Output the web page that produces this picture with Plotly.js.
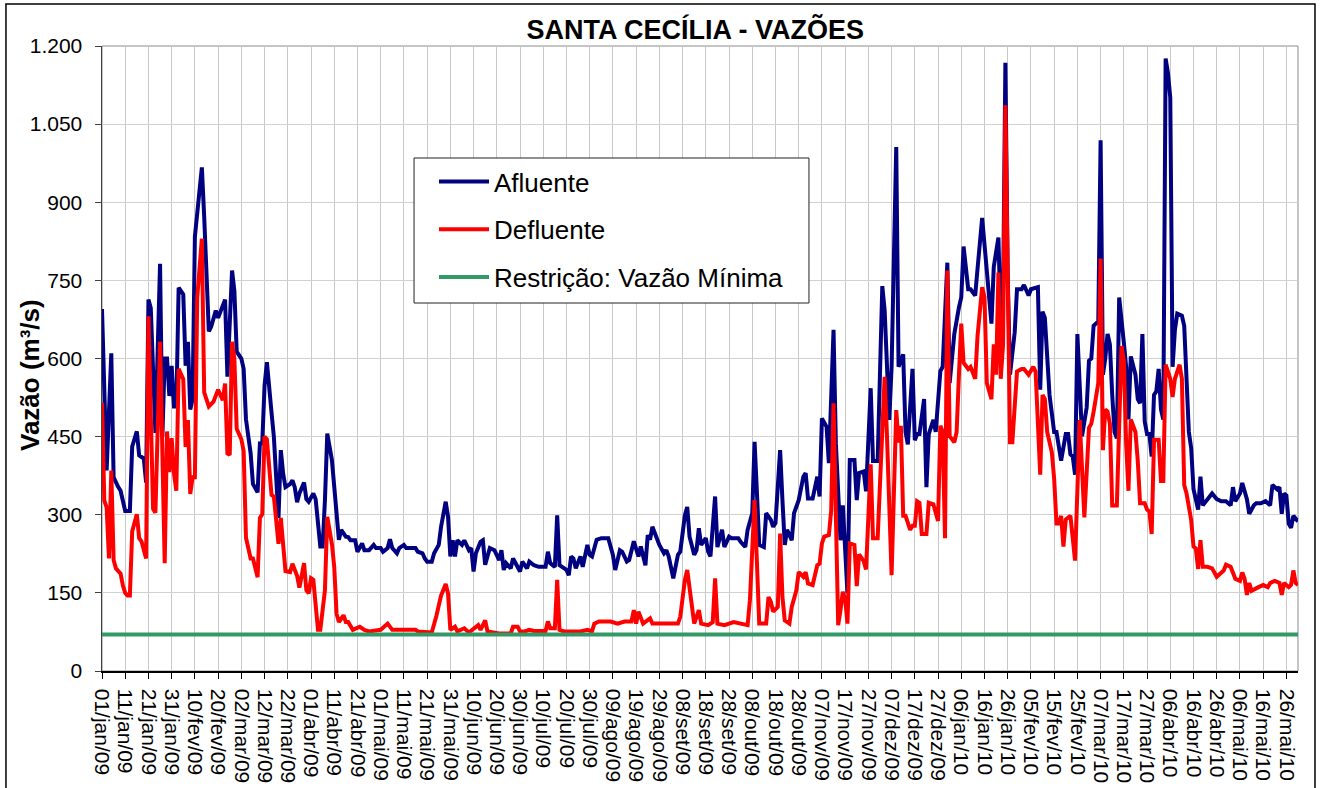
<!DOCTYPE html>
<html>
<head>
<meta charset="utf-8">
<script src="https://cdn.plot.ly/plotly-3.0.1.min.js"></script>
<style>
  html, body { margin: 0; padding: 0; background: #fff; }
  #chart { width: 1320px; height: 788px; }
</style>
</head>
<body>
<div id="chart"></div>
<script>
// Santa Cecília - vazões diárias (m³/s), dias contados a partir de 01/jan/09
const afluenteDias = [
  0, 2, 4, 5, 7, 8, 10, 12, 13, 15, 16, 18, 19, 20, 21, 23, 25, 26, 27, 28,
  29, 30, 31, 32, 33, 35, 36, 37, 38, 39, 40, 41, 43, 44, 46, 47, 49, 50, 51, 53,
  54, 56, 57, 58, 60, 61, 62, 64, 65, 67, 68, 69, 70, 71, 73, 74, 76, 77, 78, 79,
  81, 82, 83, 84, 85, 87, 88, 89, 91, 92, 94, 95, 96, 97, 99, 100, 102, 103, 105, 106,
  107, 109, 110, 112, 113, 115, 117, 118, 120, 121, 123, 124, 125, 127, 128, 130, 131, 133, 135, 136,
  138, 139, 140, 142, 143, 145, 146, 148, 149, 150, 151, 152, 153, 155, 156, 158, 159, 160, 161, 163,
  164, 165, 167, 169, 171, 172, 173, 174, 176, 177, 178, 180, 181, 183, 184, 186, 188, 191, 192, 193,
  195, 196, 197, 198, 200, 201, 202, 203, 204, 206, 207, 209, 210, 211, 213, 215, 218, 220, 221, 223,
  224, 226, 227, 229, 231, 232, 234, 235, 236, 237, 239, 240, 242, 243, 244, 246, 248, 249, 251, 252,
  253, 255, 256, 257, 258, 260, 261, 262, 264, 265, 267, 268, 270, 271, 274, 275, 277, 278, 280, 281,
  282, 283, 285, 286, 288, 289, 290, 292, 293, 294, 295, 297, 298, 300, 302, 303, 304, 306, 308, 309,
  310, 312, 313, 315, 316, 318, 319, 321, 322, 324, 325, 326, 328, 329, 331, 332, 334, 336, 337, 339,
  340, 342, 343, 345, 346, 347, 349, 350, 351, 352, 354, 355, 356, 358, 359, 361, 362, 364, 365, 366,
  367, 369, 370, 371, 373, 374, 376, 377, 379, 380, 382, 383, 384, 386, 387, 388, 389, 390, 391, 393,
  394, 396, 397, 399, 400, 402, 403, 404, 405, 406, 407, 408, 410, 411, 413, 415, 416, 417, 418, 419,
  420, 421, 422, 424, 425, 426, 427, 429, 430, 431, 432, 433, 434, 435, 436, 437, 438, 440, 441, 442,
  443, 445, 446, 447, 448, 449, 450, 451, 452, 453, 454, 455, 456, 457, 458, 459, 460, 461, 462, 463,
  465, 466, 467, 468, 469, 470, 472, 473, 474, 476, 478, 480, 482, 484, 486, 487, 488, 490, 491, 493,
  494, 496, 497, 499, 501, 503, 504, 506, 507, 508, 509, 510, 511, 512, 513, 515
];
const afluenteVazao = [
  695, 385, 610, 372, 353, 346, 307, 307, 431, 460, 414, 408, 362, 713, 697, 457, 782, 450, 600, 600,
  528, 586, 508, 508, 736, 723, 586, 632, 502, 522, 834, 873, 967, 873, 652, 661, 692, 678, 690, 713,
  565, 769, 730, 613, 600, 580, 483, 418, 359, 343, 437, 437, 548, 593, 496, 450, 294, 424, 379, 353,
  359, 366, 353, 324, 341, 362, 330, 325, 341, 330, 239, 239, 328, 456, 405, 355, 252, 271, 258, 257,
  251, 251, 229, 245, 232, 232, 242, 236, 236, 229, 236, 253, 236, 226, 236, 242, 236, 236, 236, 229,
  226, 216, 210, 210, 226, 242, 277, 325, 296, 220, 251, 220, 251, 242, 251, 232, 236, 191, 226, 248,
  251, 204, 236, 232, 213, 232, 194, 207, 197, 216, 207, 191, 210, 197, 210, 203, 200, 200, 229, 207,
  200, 299, 203, 200, 194, 184, 220, 216, 197, 220, 200, 242, 223, 220, 252, 255, 255, 223, 194, 232,
  229, 210, 213, 249, 220, 239, 203, 261, 252, 277, 255, 242, 226, 232, 220, 178, 223, 229, 299, 315,
  258, 223, 232, 274, 242, 255, 229, 220, 335, 238, 271, 238, 258, 255, 255, 248, 238, 271, 303, 440,
  344, 242, 238, 303, 290, 277, 284, 424, 328, 242, 271, 251, 303, 328, 373, 380, 331, 331, 373, 335,
  485, 469, 399, 655, 437, 251, 318, 149, 405, 405, 328, 380, 383, 345, 543, 403, 403, 739, 693, 482,
  584, 1006, 584, 608, 459, 435, 580, 443, 455, 455, 522, 353, 455, 482, 459, 576, 584, 784, 553, 592,
  647, 698, 717, 815, 733, 733, 721, 772, 870, 819, 710, 667, 776, 832, 670, 710, 1168, 760, 569, 650,
  733, 733, 741, 721, 733, 737, 737, 540, 690, 678, 612, 530, 459, 459, 404, 455, 455, 416, 412, 377,
  647, 553, 451, 506, 596, 600, 663, 671, 1019, 569, 600, 647, 627, 530, 459, 447, 717, 631, 584, 483,
  604, 569, 522, 514, 647, 479, 455, 455, 412, 530, 537, 580, 502, 483, 1176, 1148, 1101, 584, 655, 686,
  682, 663, 545, 459, 428, 349, 310, 373, 318, 330, 341, 330, 326, 326, 318, 353, 326, 341, 361, 330,
  302, 318, 322, 322, 326, 318, 357, 349, 353, 302, 341, 337, 283, 275, 298, 287
];

const defluenteDias = [
  0, 1, 2, 3, 4, 5, 6, 8, 9, 10, 11, 12, 13, 15, 16, 17, 19, 20, 22, 23,
  25, 27, 28, 29, 30, 31, 32, 33, 35, 36, 37, 38, 39, 40, 41, 43, 44, 46, 48, 50,
  52, 53, 54, 55, 56, 57, 58, 60, 61, 62, 64, 65, 67, 68, 69, 70, 71, 73, 74, 76,
  77, 78, 79, 81, 82, 84, 85, 87, 88, 89, 90, 91, 92, 93, 94, 96, 97, 99, 100, 101,
  102, 104, 105, 106, 108, 110, 111, 113, 115, 120, 123, 125, 129, 135, 136, 142, 144, 146, 148, 149,
  150, 152, 153, 156, 158, 162, 163, 165, 166, 171, 176, 177, 179, 180, 182, 184, 186, 191, 192, 193,
  195, 196, 197, 199, 206, 209, 211, 212, 214, 219, 222, 225, 228, 229, 230, 231, 233, 236, 237, 248,
  249, 251, 252, 253, 255, 257, 258, 261, 263, 264, 265, 268, 272, 278, 279, 281, 282, 283, 286, 287,
  288, 289, 291, 292, 293, 294, 296, 297, 299, 300, 302, 303, 304, 306, 308, 309, 310, 311, 313, 314,
  315, 316, 317, 318, 319, 320, 321, 322, 324, 325, 326, 328, 329, 331, 332, 334, 335, 337, 338, 340,
  342, 343, 344, 345, 346, 348, 349, 350, 351, 352, 353, 355, 356, 358, 360, 361, 362, 363, 364, 365,
  367, 368, 369, 370, 371, 373, 374, 376, 377, 379, 380, 381, 383, 384, 385, 386, 387, 388, 389, 391,
  392, 394, 396, 397, 399, 400, 401, 402, 404, 405, 406, 407, 409, 410, 411, 412, 413, 414, 415, 417,
  418, 419, 421, 423, 425, 426, 427, 429, 430, 431, 432, 433, 434, 435, 437, 439, 440, 441, 442, 443,
  445, 446, 447, 449, 450, 451, 452, 453, 455, 456, 457, 458, 460, 461, 462, 464, 465, 466, 467, 469,
  470, 471, 472, 473, 474, 476, 478, 480, 483, 484, 486, 487, 488, 490, 491, 492, 493, 494, 495, 498,
  500, 502, 503, 505, 507, 508, 509, 511, 512, 513, 514, 515
];
const defluenteVazao = [
  515, 327, 314, 216, 385, 213, 197, 187, 164, 150, 145, 145, 268, 301, 255, 249, 216, 681, 311, 304,
  632, 207, 460, 382, 447, 379, 346, 580, 560, 430, 482, 340, 372, 372, 717, 830, 535, 508, 517, 540,
  520, 552, 418, 415, 632, 600, 465, 445, 422, 256, 216, 216, 180, 294, 301, 450, 445, 338, 335, 244,
  294, 244, 192, 190, 206, 183, 160, 207, 155, 149, 178, 175, 123, 79, 79, 155, 296, 244, 200, 110,
  94, 107, 94, 94, 79, 82, 85, 79, 76, 79, 91, 79, 79, 79, 76, 74, 106, 145, 167, 149,
  79, 85, 76, 82, 74, 88, 79, 97, 76, 72, 72, 85, 85, 76, 76, 79, 77, 77, 95, 82,
  82, 175, 79, 76, 76, 79, 76, 91, 95, 95, 91, 95, 95, 117, 91, 114, 91, 101, 91, 91,
  104, 175, 194, 155, 91, 117, 91, 88, 94, 178, 91, 88, 94, 88, 136, 328, 187, 91, 91, 142,
  133, 114, 123, 264, 142, 97, 91, 123, 155, 190, 181, 190, 168, 165, 203, 206, 245, 258, 261, 309,
  514, 264, 88, 117, 152, 139, 91, 245, 242, 163, 224, 211, 195, 397, 255, 255, 361, 565, 453, 184,
  501, 439, 471, 298, 298, 271, 279, 279, 326, 323, 263, 263, 323, 320, 288, 471, 459, 255, 769, 451,
  439, 459, 569, 667, 592, 580, 584, 561, 643, 737, 718, 553, 522, 627, 569, 765, 561, 627, 1086, 439,
  439, 575, 580, 580, 569, 575, 584, 575, 377, 530, 522, 459, 420, 369, 283, 283, 298, 239, 291, 298,
  255, 212, 482, 295, 467, 475, 498, 553, 792, 424, 502, 498, 475, 318, 318, 624, 596, 436, 346, 483,
  459, 404, 322, 322, 310, 306, 263, 444, 444, 365, 365, 588, 561, 526, 561, 588, 561, 357, 341, 290,
  239, 235, 196, 251, 200, 200, 197, 181, 193, 204, 200, 189, 177, 173, 189, 177, 146, 169, 154, 161,
  165, 161, 169, 173, 169, 146, 169, 161, 165, 193, 169, 165
];

const restricaoDias = [0, 515];
const restricaoVazao = [70, 70];

const meses = ['jan', 'fev', 'mar', 'abr', 'mai', 'jun', 'jul', 'ago', 'set', 'out', 'nov', 'dez'];
const yTicks = [0, 150, 300, 450, 600, 750, 900, 1050, 1200];
const yTickText = ['0', '150', '300', '450', '600', '750', '900', '1.050', '1.200'];

function diaParaData(d) {
    const t = new Date(Date.UTC(2009, 0, 1 + d));
    return t.toISOString().slice(0, 10);
}
function rotulo(d) {
    const t = new Date(Date.UTC(2009, 0, 1 + d));
    const dd = String(t.getUTCDate()).padStart(2, '0');
    const yy = String(t.getUTCFullYear()).slice(2);
    return `${dd}/${meses[t.getUTCMonth()]}/${yy}`;
}

// ticks every 10 days
const tickDias = [];
for (let d = 0; d <= 510; d += 10) tickDias.push(d);

const fonte = 'Liberation Sans, Arial, sans-serif';

const traces = [
    {
        x: afluenteDias.map(diaParaData),
        y: afluenteVazao,
        type: 'scatter',
        mode: 'lines',
        name: 'Afluente',
        legendgroup: 'a',
        line: { color: '#000080', width: 4 }
    },
    {
        x: defluenteDias.map(diaParaData),
        y: defluenteVazao,
        type: 'scatter',
        mode: 'lines',
        name: 'Defluente',
        legendgroup: 'd',
        line: { color: '#ff0000', width: 4 }
    },
    {
        x: restricaoDias.map(diaParaData),
        y: restricaoVazao,
        type: 'scatter',
        mode: 'lines',
        name: 'Restrição: Vazão Mínima',
        legendgroup: 'r',
        line: { color: '#339966', width: 4 }
    }
];

const layout = {
    width: 1320,
    height: 788,
    margin: { l: 102, r: 22, t: 46, b: 117 },
    paper_bgcolor: '#fff',
    plot_bgcolor: '#fff',
    font: { family: fonte, color: '#000' },
    title: {
        text: 'SANTA CECÍLIA - VAZÕES',
        font: { family: fonte, size: 27, weight: 'bold', color: '#000' },
        x: 0.496, xref: 'paper', xanchor: 'center',
        y: 0.963, yref: 'container', yanchor: 'middle'
    },
    xaxis: {
        type: 'date',
        range: [diaParaData(0), diaParaData(515)],
        tickvals: tickDias.map(diaParaData),
        ticktext: tickDias.map(rotulo),
        tickangle: 90,
        tickfont: { family: fonte, size: 21, color: '#000' },
        ticks: 'outside', ticklen: 6, tickcolor: '#000', tickwidth: 1,
        ticklabelstandoff: 6,
        showgrid: true, gridcolor: '#c8c8c8', gridwidth: 1,
        showline: true, linecolor: '#000', linewidth: 1.5,
        zeroline: false, automargin: false, fixedrange: true
    },
    yaxis: {
        range: [0, 1200],
        tickvals: yTicks,
        ticktext: yTickText,
        tickfont: { family: fonte, size: 21, color: '#000' },
        ticks: 'outside', ticklen: 6, tickcolor: '#404040', tickwidth: 1,
        ticklabelstandoff: 8,
        showgrid: true, gridcolor: '#d0d0d0', gridwidth: 1,
        showline: true, linecolor: '#404040', linewidth: 1.5,
        zeroline: false, automargin: false, fixedrange: true
    },
    legend: {
        x: 0.2776, y: 0.8208, xanchor: 'left', yanchor: 'top',
        bgcolor: 'rgba(0,0,0,0)', borderwidth: 0,
        font: { family: fonte, size: 26, color: '#000' },
        traceorder: 'grouped', tracegroupgap: 11,
        itemwidth: 50
    },
    shapes: [
        // plot area frame
        { type: 'rect', xref: 'paper', yref: 'paper', x0: 0, x1: 1, y0: 0, y1: 1,
          line: { color: '#8c8c8c', width: 1 }, layer: 'below' },
        // legend box
        { type: 'rect', xref: 'paper', yref: 'paper', x0: 0.2609, x1: 0.5911, y0: 0.5888, y1: 0.8208,
          fillcolor: '#fff', line: { color: '#222', width: 1 }, layer: 'above' },
        // chart area frame
        { type: 'rect', xref: 'paper', yref: 'paper', x0: -0.0803, x1: 1.0142, y0: -0.22, y1: 1.0672,
          line: { color: '#000', width: 1.5 } }
    ],
    annotations: [
        { text: 'Vazão (m³/s)', xref: 'paper', yref: 'paper', x: -0.0602, y: 0.4736,
          xanchor: 'center', yanchor: 'middle',
          textangle: -90, showarrow: false,
          font: { family: fonte, size: 26, weight: 'bold', color: '#000' } }
    ]
};

Plotly.newPlot('chart', traces, layout, { displayModeBar: false, staticPlot: true });
</script>
</body>
</html>
